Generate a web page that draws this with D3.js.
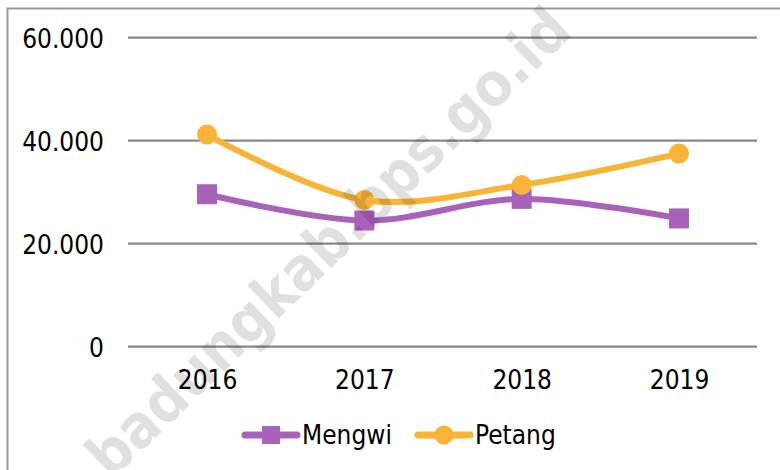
<!DOCTYPE html>
<html>
<head>
<meta charset="utf-8">
<script src="https://cdn.jsdelivr.net/npm/d3@7"></script>
<style>
  body { margin: 0; background: #fff; }
  text { font-family: "DejaVu Sans Condensed", "DejaVu Sans", sans-serif; }
</style>
</head>
<body>
<div id="chart"></div>
<script>
const years = ['2016', '2017', '2018', '2019'];
const mengwi = [29600, 24500, 28700, 24900];
const petang = [41200, 28500, 31400, 37500];
const yTicks = [0, 20000, 40000, 60000];
const seriesNames = ['Mengwi', 'Petang'];
const colors = ['#a962ba', '#f9b437'];

const width = 780;
const height = 470;

const svg = d3.select('#chart')
  .append('svg')
  .attr('width', width)
  .attr('height', height);

// outer frame (runs off the right and bottom edge)
svg.append('rect')
  .attr('x', 7.5).attr('y', 8.5)
  .attr('width', 800).attr('height', 500)
  .attr('fill', 'none')
  .attr('stroke', '#999')
  .attr('stroke-width', 2);

const x = d3.scalePoint()
  .domain(years)
  .range([207, 679]);

const y = d3.scaleLinear()
  .domain([0, 60000])
  .range([346.7, 37.7]);

const fmt = d => d3.format(',')(d).replace(/,/g, '.');

// gridlines
svg.append('g')
  .selectAll('line')
  .data(yTicks)
  .join('line')
    .attr('x1', 128).attr('x2', 757)
    .attr('y1', d => y(d)).attr('y2', d => y(d))
    .attr('stroke', '#888')
    .attr('stroke-width', 2.2);

function yAxis(g) {
  g.call(d3.axisLeft(y).tickValues(yTicks).tickFormat(fmt).tickSize(0).tickPadding(0))
    .attr('transform', 'translate(104, 0)')
    .attr('font-size', '26px')
    .attr('font-family', null);
  g.select('.domain').remove();
  g.selectAll('text').attr('fill', '#000').attr('dy', '0.36em');
}

function xAxis(g) {
  g.call(d3.axisBottom(x).tickSize(0).tickPadding(0))
    .attr('transform', 'translate(0, 389)')
    .attr('font-size', '26px')
    .attr('font-family', null);
  g.select('.domain').remove();
  g.selectAll('text').attr('fill', '#000').attr('dy', 0);
}

svg.append('g').call(yAxis);
svg.append('g').call(xAxis);

const line = d3.line()
  .x((d, i) => x(years[i]))
  .y(d => y(d))
  .curve(d3.curveCatmullRom);

const series = [mengwi, petang];

series.forEach((vals, s) => {
  svg.append('path')
    .datum(vals)
    .attr('d', line)
    .attr('fill', 'none')
    .attr('stroke', colors[s])
    .attr('stroke-width', 6)
    .attr('stroke-linecap', 'round');
});

// markers
svg.append('g')
  .selectAll('rect')
  .data(mengwi)
  .join('rect')
    .attr('x', (d, i) => x(years[i]) - 10)
    .attr('y', d => y(d) - 10)
    .attr('width', 20).attr('height', 20)
    .attr('fill', colors[0]);

svg.append('g')
  .selectAll('circle')
  .data(petang)
  .join('circle')
    .attr('cx', (d, i) => x(years[i]))
    .attr('cy', d => y(d))
    .attr('r', 10)
    .attr('fill', colors[1]);

// legend
const legend = svg.append('g').attr('transform', 'translate(0, 435)');
const legendX = [243, 416];
seriesNames.forEach((name, s) => {
  const g = legend.append('g').attr('transform', `translate(${legendX[s]}, 0)`);
  g.append('line')
    .attr('x1', 2).attr('x2', 54)
    .attr('stroke', colors[s])
    .attr('stroke-width', 7)
    .attr('stroke-linecap', 'round');
  if (s === 0) {
    g.append('rect').attr('x', 19).attr('y', -9).attr('width', 18).attr('height', 18).attr('fill', colors[s]);
  } else {
    g.append('circle').attr('cx', 28).attr('r', 9.5).attr('fill', colors[s]);
  }
  g.append('text')
    .attr('x', 59)
    .attr('dy', '0.36em')
    .attr('font-size', '26px')
    .attr('fill', '#000')
    .text(name);
});

// watermark
svg.append('text')
  .attr('transform', 'translate(328, 242) rotate(-44)')
  .attr('text-anchor', 'middle')
  .attr('dy', '0.35em')
  .attr('font-family', 'Liberation Sans, Arial, sans-serif')
  .attr('font-weight', 'bold')
  .attr('font-size', '60px')
  .attr('fill', '#000')
  .attr('fill-opacity', 0.12)
  .text('badungkab.bps.go.id');
</script>
</body>
</html>
